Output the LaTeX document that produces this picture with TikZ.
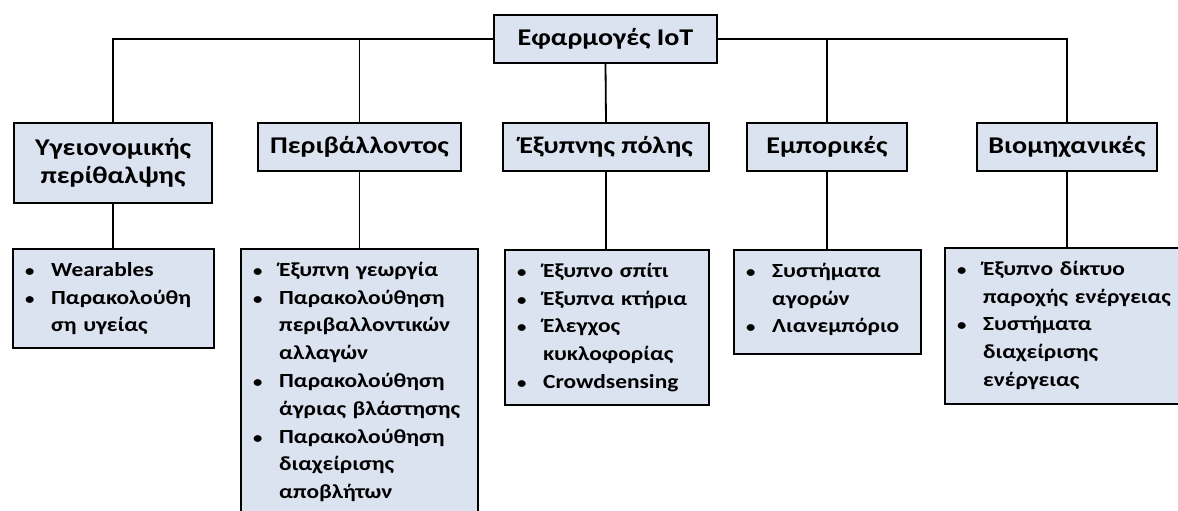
\documentclass[tikz,border=0pt]{standalone}
\usepackage{fontspec}
\setmainfont{Carlito}[FakeStretch=1.17]
\definecolor{boxfill}{RGB}{220,227,240}
% one bulleted entry as its own paragraph; wrapped lines (\newline) keep the hanging indent
\newcommand\listentry[1]{\noindent\hangindent=26pt\hangafter=1%
  \makebox[26pt][l]{{\fontsize{16}{16}\selectfont •}}\rule{0pt}{20pt}#1\par}
\begin{document}
\begin{tikzpicture}[x=1pt,y=-1pt,
  box/.style={draw=black, line width=2pt, fill=boxfill, inner sep=0pt, anchor=north west},
  head/.style={box, font=\bfseries\fontsize{24}{28}\selectfont, align=center},
  list/.style={inner sep=0pt, anchor=north west, text width=#1, align=left,
    font=\bfseries\fontsize{20}{27.8}\selectfont},
  link/.style={line width=1.8pt}]
\useasboundingbox (0,0) rectangle (1178,511);
\clip (0,0) rectangle (1178,511);

% root
\node[head, minimum width=223pt, minimum height=48pt] (root) at (493,14) {Εφαρμογές IoT};

% categories
\node[head, minimum width=198pt, minimum height=80pt] (heal) at (13,122) {Υγειονομικής\\περίθαλψης};
\node[head, minimum width=203pt, minimum height=48pt] (env)  at (257,122) {Περιβάλλοντος};
\node[head, minimum width=206pt, minimum height=48pt] (city) at (502,122) {Έξυπνης πόλης};
\node[head, minimum width=160pt, minimum height=48pt] (com)  at (746,122) {Εμπορικές};
\node[head, minimum width=180pt, minimum height=48pt] (ind)  at (976,122) {Βιομηχανικές};

% example boxes
\node[box, minimum width=201pt, minimum height=99pt]  (heal3) at (12,248) {};
\node[box, minimum width=237pt, minimum height=290pt] (env3)  at (240,248) {};
\node[box, minimum width=204pt, minimum height=155pt] (city3) at (504,249) {};
\node[box, minimum width=187pt, minimum height=104pt] (com3)  at (733,249) {};
\node[box, minimum width=240pt, minimum height=156pt] (ind3)  at (944,247) {};

% example lists
\node[list=200pt] (heal3t) at ([shift={(13pt,-8pt)}]heal3.north west) {%
  \listentry{Wearables}
  \listentry{Παρακολούθη\newline ση υγείας}};
\node[list=240pt] (env3t) at ([shift={(13pt,-8pt)}]env3.north west) {%
  \listentry{Έξυπνη γεωργία}
  \listentry{Παρακολούθηση\newline περιβαλλοντικών\newline αλλαγών}
  \listentry{Παρακολούθηση\newline άγριας βλάστησης}
  \listentry{Παρακολούθηση\newline διαχείρισης\newline αποβλήτων}};
\node[list=200pt] (city3t) at ([shift={(13pt,-8pt)}]city3.north west) {%
  \listentry{Έξυπνο σπίτι}
  \listentry{Έξυπνα κτήρια}
  \listentry{Έλεγχος\newline κυκλοφορίας}
  \listentry{Crowdsensing}};
\node[list=190pt] (com3t) at ([shift={(13pt,-8pt)}]com3.north west) {%
  \listentry{Συστήματα\newline αγορών}
  \listentry{Λιανεμπόριο}};
\node[list=230pt] (ind3t) at ([shift={(13pt,-8pt)}]ind3.north west) {%
  \listentry{Έξυπνο δίκτυο\newline παροχής ενέργειας}
  \listentry{Συστήματα\newline διαχείρισης\newline ενέργειας}};

% tree connectors
\draw[link] (root.west) -| (heal.north);
\draw[link] (root.east) -| (ind.north);
\draw[link] (root.south) -- (city.north);
\draw[link] (env.north) -- (env.north |- root.west);
\draw[link] (com.north) -- (com.north |- root.east);
\draw[link] (heal.south) -- (heal.south |- heal3.north);
\draw[link] (env.south)  -- (env.south  |- env3.north);
\draw[link] (city.south) -- (city.south |- city3.north);
\draw[link] (com.south)  -- (com.south  |- com3.north);
\draw[link] (ind.south)  -- (ind.south  |- ind3.north);
\end{tikzpicture}
\end{document}
